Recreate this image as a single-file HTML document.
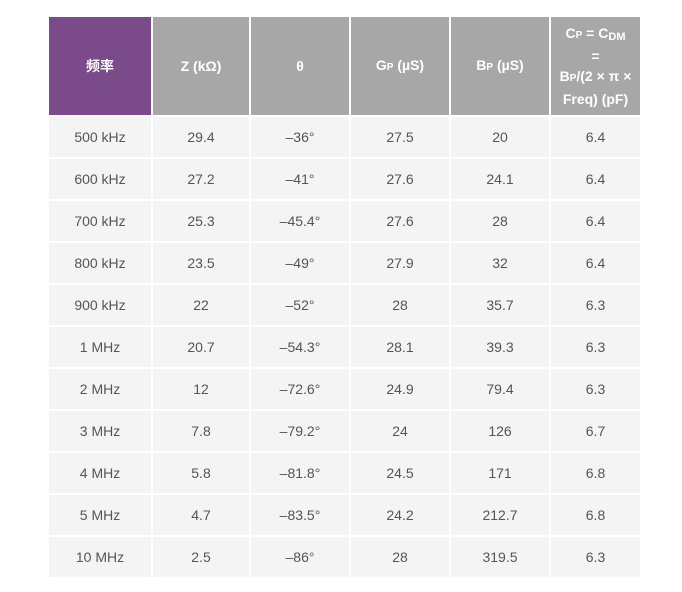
<!DOCTYPE html>
<html><head><meta charset="utf-8"><style>
html,body{margin:0;padding:0;background:#fff;width:682px;height:592px;overflow:hidden}
table{position:absolute;left:49px;top:17px;border-collapse:separate;border-spacing:2px;margin:-2px;
font-family:"Liberation Sans","Noto Sans CJK SC",sans-serif;font-size:14px}
td,th{text-align:center;padding:0;height:40px}
th{background:#a7a7a7;color:#fff;font-weight:bold;height:98px;font-size:14px;line-height:20px}
th.p{background:#7b4a8b}
td{background:#f4f4f4;color:#555}
sub{font-size:11px;vertical-align:-2px;line-height:0}
small{font-size:10px}
</style></head><body>
<table>
<tr><th class="p" style="width:102px">频率</th><th style="width:96px">Z (kΩ)</th><th style="width:98px">θ</th><th style="width:98px">G<small>P</small> (µS)</th><th style="width:98px">B<small>P</small> (µS)</th><th style="width:89px">C<small>P</small> = C<sub>DM</sub><br>=<br>B<small>P</small>/(2 × π ×<br>Freq) (pF)</th></tr>
<tr><td>500 kHz</td><td>29.4</td><td>–36°</td><td>27.5</td><td>20</td><td>6.4</td></tr>
<tr><td>600 kHz</td><td>27.2</td><td>–41°</td><td>27.6</td><td>24.1</td><td>6.4</td></tr>
<tr><td>700 kHz</td><td>25.3</td><td>–45.4°</td><td>27.6</td><td>28</td><td>6.4</td></tr>
<tr><td>800 kHz</td><td>23.5</td><td>–49°</td><td>27.9</td><td>32</td><td>6.4</td></tr>
<tr><td>900 kHz</td><td>22</td><td>–52°</td><td>28</td><td>35.7</td><td>6.3</td></tr>
<tr><td>1 MHz</td><td>20.7</td><td>–54.3°</td><td>28.1</td><td>39.3</td><td>6.3</td></tr>
<tr><td>2 MHz</td><td>12</td><td>–72.6°</td><td>24.9</td><td>79.4</td><td>6.3</td></tr>
<tr><td>3 MHz</td><td>7.8</td><td>–79.2°</td><td>24</td><td>126</td><td>6.7</td></tr>
<tr><td>4 MHz</td><td>5.8</td><td>–81.8°</td><td>24.5</td><td>171</td><td>6.8</td></tr>
<tr><td>5 MHz</td><td>4.7</td><td>–83.5°</td><td>24.2</td><td>212.7</td><td>6.8</td></tr>
<tr><td>10 MHz</td><td>2.5</td><td>–86°</td><td>28</td><td>319.5</td><td>6.3</td></tr>
</table>
</body></html>
